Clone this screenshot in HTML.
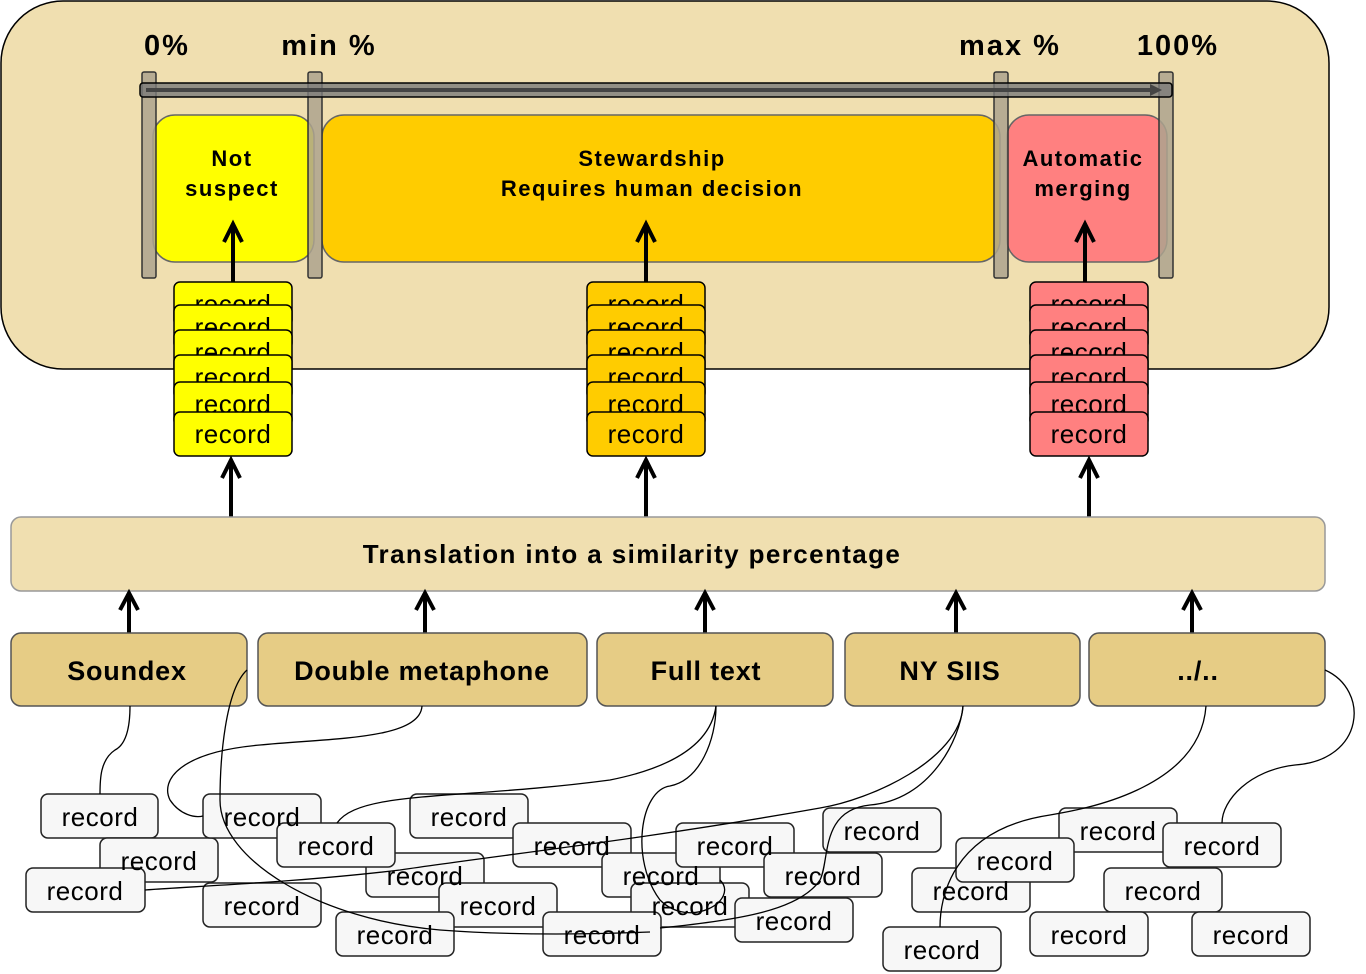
<!DOCTYPE html>
<html><head><meta charset="utf-8"><style>
html,body{margin:0;padding:0;background:#fff}
svg{display:block}
text{font-family:"Liberation Sans",Arial,sans-serif}
</style></head><body>
<svg width="1366" height="974" viewBox="0 0 1366 974" xmlns="http://www.w3.org/2000/svg">
<rect x="1" y="1" width="1328" height="368" rx="62" fill="#F0DFB0" stroke="#000" stroke-width="1.5"/>
<g font-weight="bold" font-size="29" text-anchor="middle" letter-spacing="2">
<text x="167" y="55">0%</text><text x="329" y="55">min %</text><text x="1010" y="55">max %</text><text x="1178" y="55">100%</text>
</g>
<rect x="153" y="115" width="161" height="147" rx="22" fill="#FFFF00" stroke="#666" stroke-width="1.5"/>
<rect x="322" y="115" width="678" height="147" rx="22" fill="#FFCC00" stroke="#666" stroke-width="1.5"/>
<rect x="1007" y="115" width="160" height="147" rx="22" fill="#FF8080" stroke="#666" stroke-width="1.5"/>
<g fill="#ADA38E" stroke="#333" stroke-width="1.5" fill-opacity="0.85">
<rect x="142" y="72" width="14" height="206" rx="2"/><rect x="308" y="72" width="14" height="206" rx="2"/>
<rect x="994" y="72" width="14" height="206" rx="2"/><rect x="1159" y="72" width="14" height="206" rx="2"/>
</g>
<rect x="140" y="83" width="1032" height="14" rx="3" fill="#7a7a7a" stroke="#000" stroke-width="1.5" fill-opacity="0.8"/>
<line x1="146" y1="90" x2="1155" y2="90" stroke="#444" stroke-width="4"/>
<path d="M1150,84 L1162,90 L1150,96 Z" fill="#444"/>
<g font-weight="bold" font-size="22" text-anchor="middle" letter-spacing="1.5">
<text x="232" y="166">Not</text><text x="232" y="196">suspect</text>
<text x="652" y="166">Stewardship</text><text x="652" y="196">Requires human decision</text>
<text x="1083" y="166">Automatic</text><text x="1083" y="196">merging</text>
</g>
<g stroke="#000" stroke-width="4" fill="none">
<line x1="233" y1="282" x2="233" y2="226"/><path d="M224,242 L233,224 L242,242"/>
<line x1="646" y1="282" x2="646" y2="226"/><path d="M637,242 L646,224 L655,242"/>
<line x1="1085" y1="282" x2="1085" y2="226"/><path d="M1076,242 L1085,224 L1094,242"/>
</g>
<!-- stacks -->
<g font-size="26" text-anchor="middle" stroke-width="1.5" letter-spacing="0.5">
<g>
<rect x="174" y="282" width="118" height="44" rx="6" fill="#FFFF00" stroke="#000"/><text x="233" y="313">record</text>
<rect x="174" y="305" width="118" height="44" rx="6" fill="#FFFF00" stroke="#000"/><text x="233" y="336">record</text>
<rect x="174" y="330" width="118" height="44" rx="6" fill="#FFFF00" stroke="#000"/><text x="233" y="361">record</text>
<rect x="174" y="355" width="118" height="44" rx="6" fill="#FFFF00" stroke="#000"/><text x="233" y="386">record</text>
<rect x="174" y="382" width="118" height="44" rx="6" fill="#FFFF00" stroke="#000"/><text x="233" y="413">record</text>
<rect x="174" y="412" width="118" height="44" rx="6" fill="#FFFF00" stroke="#000"/><text x="233" y="443">record</text>
</g>
<g>
<rect x="587" y="282" width="118" height="44" rx="6" fill="#FFCC00" stroke="#000"/><text x="646" y="313">record</text>
<rect x="587" y="305" width="118" height="44" rx="6" fill="#FFCC00" stroke="#000"/><text x="646" y="336">record</text>
<rect x="587" y="330" width="118" height="44" rx="6" fill="#FFCC00" stroke="#000"/><text x="646" y="361">record</text>
<rect x="587" y="355" width="118" height="44" rx="6" fill="#FFCC00" stroke="#000"/><text x="646" y="386">record</text>
<rect x="587" y="382" width="118" height="44" rx="6" fill="#FFCC00" stroke="#000"/><text x="646" y="413">record</text>
<rect x="587" y="412" width="118" height="44" rx="6" fill="#FFCC00" stroke="#000"/><text x="646" y="443">record</text>
</g>
<g>
<rect x="1030" y="282" width="118" height="44" rx="6" fill="#FF8080" stroke="#000"/><text x="1089" y="313">record</text>
<rect x="1030" y="305" width="118" height="44" rx="6" fill="#FF8080" stroke="#000"/><text x="1089" y="336">record</text>
<rect x="1030" y="330" width="118" height="44" rx="6" fill="#FF8080" stroke="#000"/><text x="1089" y="361">record</text>
<rect x="1030" y="355" width="118" height="44" rx="6" fill="#FF8080" stroke="#000"/><text x="1089" y="386">record</text>
<rect x="1030" y="382" width="118" height="44" rx="6" fill="#FF8080" stroke="#000"/><text x="1089" y="413">record</text>
<rect x="1030" y="412" width="118" height="44" rx="6" fill="#FF8080" stroke="#000"/><text x="1089" y="443">record</text>
</g>
</g>
<g stroke="#000" stroke-width="4" fill="none">
<line x1="231" y1="517" x2="231" y2="462"/><path d="M222,478 L231,460 L240,478"/>
<line x1="646" y1="517" x2="646" y2="462"/><path d="M637,478 L646,460 L655,478"/>
<line x1="1089" y1="517" x2="1089" y2="462"/><path d="M1080,478 L1089,460 L1098,478"/>
</g>
<rect x="11" y="517" width="1314" height="74" rx="10" fill="#F0DFB0" stroke="#999" stroke-width="1.5"/>
<text x="632" y="563" font-size="26" font-weight="bold" text-anchor="middle" letter-spacing="1.4">Translation into a similarity percentage</text>
<g stroke="#000" stroke-width="4" fill="none">
<line x1="129" y1="633" x2="129" y2="596"/><path d="M120,610 L129,593 L138,610"/>
<line x1="425" y1="633" x2="425" y2="596"/><path d="M416,610 L425,593 L434,610"/>
<line x1="705" y1="633" x2="705" y2="596"/><path d="M696,610 L705,593 L714,610"/>
<line x1="956" y1="633" x2="956" y2="596"/><path d="M947,610 L956,593 L965,610"/>
<line x1="1192" y1="633" x2="1192" y2="596"/><path d="M1183,610 L1192,593 L1201,610"/>
</g>
<g fill="#E6CC85" stroke="#555" stroke-width="1.5">
<rect x="11" y="633" width="236" height="73" rx="10"/><rect x="258" y="633" width="329" height="73" rx="10"/>
<rect x="597" y="633" width="236" height="73" rx="10"/><rect x="845" y="633" width="235" height="73" rx="10"/>
<rect x="1089" y="633" width="236" height="73" rx="10"/>
</g>
<g font-size="27" font-weight="bold" text-anchor="middle" letter-spacing="0.8">
<text x="127" y="680">Soundex</text><text x="422" y="680">Double metaphone</text><text x="706" y="680">Full text</text><text x="950" y="680">NY SIIS</text><text x="1198" y="680">../..</text>
</g>
<!-- records -->
<g stroke-width="1.5">
<g fill="#F7F7F7" stroke="#222">
<rect x="41" y="794" width="117" height="44" rx="7"/>
<rect x="100" y="838" width="118" height="44" rx="7"/>
<rect x="26" y="868" width="119" height="44" rx="7"/>
<rect x="203" y="794" width="118" height="44" rx="7"/>
<rect x="366" y="853" width="118" height="44" rx="7"/>
<rect x="277" y="823" width="118" height="44" rx="7"/>
<rect x="203" y="883" width="118" height="44" rx="7"/>
<rect x="410" y="794" width="118" height="44" rx="7"/>
<rect x="439" y="883" width="118" height="44" rx="7"/>
<rect x="513" y="823" width="118" height="44" rx="7"/>
<rect x="336" y="912" width="118" height="44" rx="7"/>
<rect x="602" y="853" width="118" height="44" rx="7"/>
<rect x="631" y="883" width="118" height="44" rx="7"/>
<rect x="676" y="823" width="118" height="44" rx="7"/>
<rect x="543" y="912" width="118" height="44" rx="7"/>
<rect x="735" y="898" width="118" height="44" rx="7"/>
<rect x="764" y="853" width="118" height="44" rx="7"/>
<rect x="823" y="808" width="118" height="44" rx="7"/>
<rect x="912" y="868" width="118" height="44" rx="7"/>
<rect x="1059" y="808" width="118" height="44" rx="7"/>
<rect x="956" y="838" width="118" height="44" rx="7"/>
<rect x="1163" y="823" width="118" height="44" rx="7"/>
<rect x="1104" y="868" width="118" height="44" rx="7"/>
<rect x="883" y="927" width="118" height="44" rx="7"/>
<rect x="1030" y="912" width="118" height="44" rx="7"/>
<rect x="1192" y="912" width="118" height="44" rx="7"/>
</g>
</g>
<!-- connectors -->
<g fill="none" stroke="#000" stroke-width="1.3">
<path d="M130,706 C130,730 125,745 115,750 C100,760 100,780 100,794"/>
<path d="M422,706 C420,740 330,738 260,745 C180,752 160,780 170,800 C180,815 195,818 203,816"/>
<path d="M247,670 C225,690 220,760 220,800 C220,860 320,920 440,930 C520,936 600,934 650,932"/>
<path d="M716,706 C710,750 660,770 610,780 C460,800 360,790 337,823"/>
<path d="M716,706 C716,740 700,780 670,786 C640,790 630,860 660,900 C690,930 740,900 720,880"/>
<path d="M963,706 C960,760 870,800 820,808 C640,840 500,855 400,870 C300,882 200,886 145,890"/>
<path d="M963,706 C960,740 930,800 870,805 C820,810 830,860 820,880 C800,910 740,920 660,928"/>
<path d="M1206,706 C1200,790 1080,810 1050,815 C950,830 940,900 940,927"/>
<path d="M1325,670 C1370,690 1365,760 1295,765 C1250,770 1222,800 1222,823"/>
</g>
<g font-size="26" text-anchor="middle" fill="#000" letter-spacing="0.5">
<text x="100" y="826">record</text><text x="159" y="870">record</text><text x="85" y="900">record</text>
<text x="262" y="826">record</text><text x="425" y="885">record</text><text x="336" y="855">record</text>
<text x="262" y="915">record</text><text x="469" y="826">record</text><text x="498" y="915">record</text>
<text x="572" y="855">record</text><text x="395" y="944">record</text><text x="661" y="885">record</text>
<text x="690" y="915">record</text><text x="735" y="855">record</text><text x="602" y="944">record</text>
<text x="794" y="930">record</text><text x="823" y="885">record</text><text x="882" y="840">record</text>
<text x="971" y="900">record</text><text x="1118" y="840">record</text><text x="1015" y="870">record</text>
<text x="1222" y="855">record</text><text x="1163" y="900">record</text><text x="942" y="959">record</text>
<text x="1089" y="944">record</text><text x="1251" y="944">record</text>
</g>
</svg>
</body></html>
